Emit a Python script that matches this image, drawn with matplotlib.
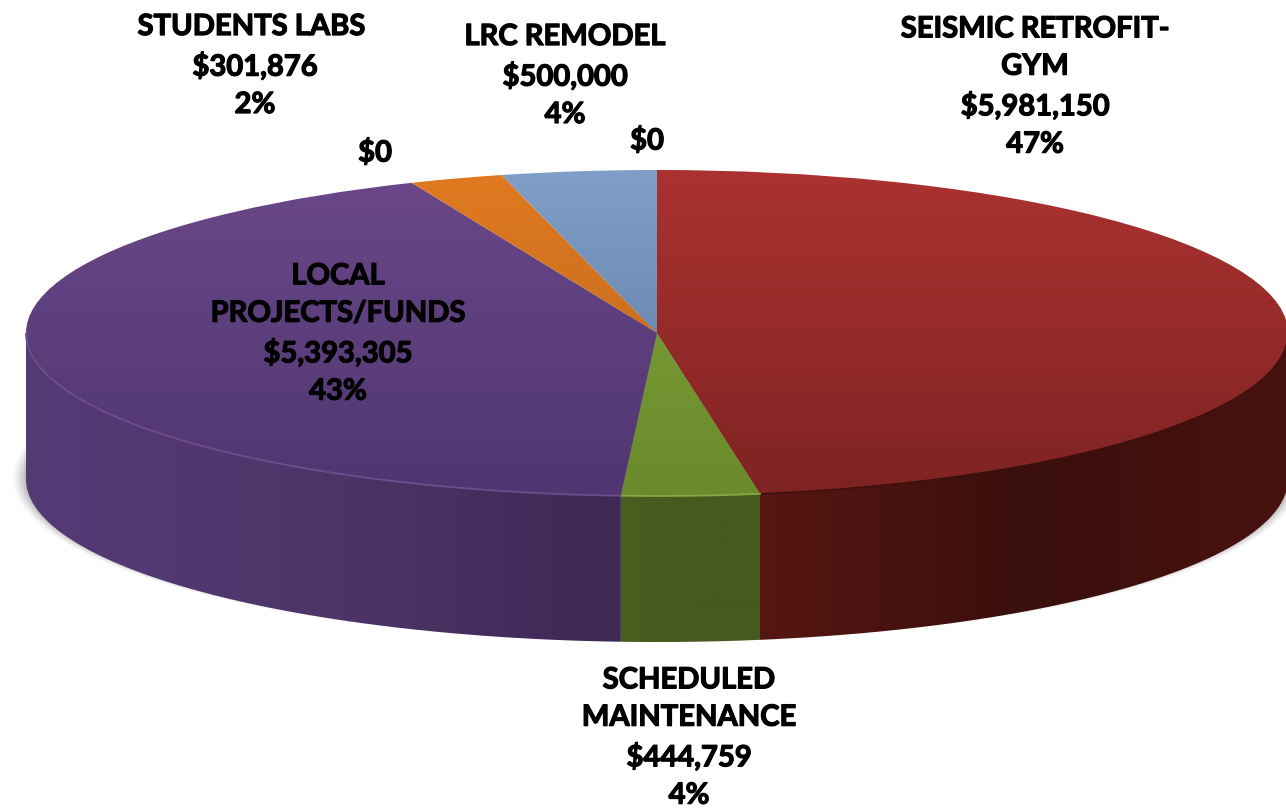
import numpy as np
import matplotlib
matplotlib.use('Agg')
import matplotlib.pyplot as plt
import matplotlib.patheffects as pe
from matplotlib.patches import Polygon
from matplotlib.transforms import Affine2D

names = ['SEISMIC RETROFIT-\nGYM', 'SCHEDULED\nMAINTENANCE', 'LOCAL\nPROJECTS/FUNDS', '',
         'STUDENTS LABS ', 'LRC REMODEL', '']
values = [5981150, 444759, 5393305, 0, 301876, 500000, 0]

# gradient colours, top face goes back->front, wall goes left->mid->right
top_back = ['#ab3230', '#82a63a', '#6b4889', '#000000', '#e07a20', '#7f9fca', '#000000']
top_front = ['#7e2322', '#6a8a2c', '#4f3670', '#000000', '#b8661c', '#5c7699', '#000000']
wall_left = ['#561612', '#4a5e20', '#553b76', '#000000', '#000000', '#000000', '#000000']
wall_mid = ['#3a0f0c', '#465a1e', '#4e3568', '#000000', '#000000', '#000000', '#000000']
wall_right = ['#48120f', '#465a1e', '#3e2855', '#000000', '#000000', '#000000', '#000000']

# label centre in image pixels
label_pos = [(1035, 87), (689, 738), (338, 334), (375, 153), (255, 66), (565, 76), (647, 141)]

W, H = 1286, 810
cx, cy, rx, ry = 657, 333, 631, 163
depth = 146 / ry

fig = plt.figure(figsize=(W / 100, H / 100), dpi=100)
ax = fig.add_axes([0, 0, 1, 1])
xlim = (-cx / rx, (W - cx) / rx)
ylim = (-(H - cy) / ry, cy / ry)


def mix(c1, c2, t):
    a = np.array(matplotlib.colors.to_rgb(c1))
    b = np.array(matplotlib.colors.to_rgb(c2))
    return a + (b - a) * t


wedges, _ = ax.pie(values, startangle=90, counterclock=False, radius=1, center=(0, 0))
ax.set_aspect('auto')

# soft shadow below the pie
gx, gy = np.meshgrid(np.linspace(xlim[0], xlim[1], W // 2), np.linspace(ylim[0], ylim[1], H // 2))
d = np.sqrt((gx * rx / 647) ** 2 + ((gy + 0.89) * ry / 165) ** 2)
shadow = np.zeros(d.shape + (4,))
shadow[..., 3] = np.clip((1.0 - d) / 0.03, 0, 1) ** 1.5 * 0.55
shadow[..., :3] = 0.25
ax.imshow(shadow, extent=(*xlim, *ylim), origin='lower', aspect='auto', zorder=1)

for i, w in enumerate(wedges):
    if values[i] == 0:
        w.set_visible(False)
        continue
    # wall, only the front half of the slice shows
    th = np.radians(np.linspace(w.theta1, w.theta2, 300))
    th = th[np.sin(th) < 0]
    if len(th) > 1:
        xs, ys = np.cos(th), np.sin(th)
        pts = np.r_[np.c_[xs, ys], np.c_[xs, ys - depth][::-1]]
        wall = Polygon(pts, closed=True, facecolor='none', edgecolor='none')
        ax.add_patch(wall)
        u = np.linspace(0, 1, 200)
        col = np.array([mix(wall_left[i], wall_mid[i], t * 2) if t < 0.5
                        else mix(wall_mid[i], wall_right[i], (t - 0.5) * 2) for t in u])
        im = ax.imshow(col[None, :, :], extent=(xs.min(), xs.max(), -1 - depth, 0.5),
                       aspect='auto', zorder=2)
        im.set_clip_path(wall)

    # top face
    w.set_zorder(3)
    w.set_facecolor('none')
    w.set_edgecolor('none')
    v = np.linspace(0, 1, 200)
    col = np.array([mix(top_front[i], top_back[i], t) for t in v])
    im = ax.imshow(col[:, None, :], extent=(-1.05, 1.05, -1, 1), origin='lower', aspect='auto', zorder=3)
    im.set_clip_path(w)

    # light rim on the front edge
    th = np.radians(np.linspace(w.theta1, w.theta2, 300))
    th = th[np.sin(th) < 0]
    if len(th) > 1 and i != 0:
        ax.plot(np.cos(th), np.sin(th), color=mix(top_back[i], '#ffffff', 0.03), lw=1.3, zorder=4)
    elif len(th) > 1:
        ax.plot(np.cos(th), np.sin(th), color='#3a0f0c', lw=1.0, zorder=4)

ax.set_xlim(xlim)
ax.set_ylim(ylim)
ax.axis('off')

# y down pixel positions for the labels
px = Affine2D().scale(1, -1).translate(0, H)
total = sum(values)
for i in range(len(values)):
    if values[i] == 0:
        s = '$0'
    else:
        s = f'{names[i]}\n${values[i]:,}\n{round(100 * values[i] / total)}%'
    s = s.replace('$', r'\$')
    t = ax.text(label_pos[i][0], label_pos[i][1], s, transform=px, ha='center', va='center',
                multialignment='center', family='Lato', fontweight='bold', fontsize=21,
                linespacing=1.54, color='black', zorder=6, clip_on=False)
    t.set_path_effects([pe.withStroke(linewidth=0.9, foreground='black')])

fig.savefig('out.png', dpi=100)
